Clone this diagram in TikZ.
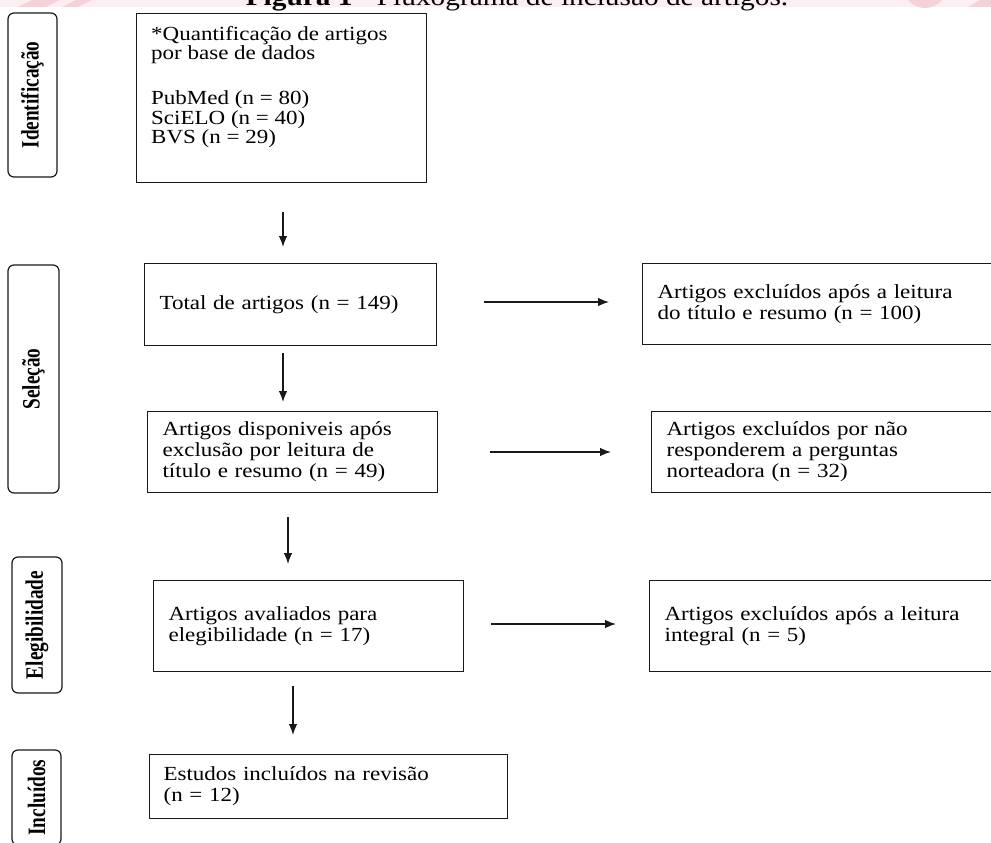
\documentclass[tikz,border=0pt]{standalone}
\usepackage{fontspec}
\setmainfont{Liberation Serif}[FakeStretch=1.15]
\newfontfamily\tagfont{Liberation Serif}[FakeStretch=0.77]
\usetikzlibrary{arrows.meta}
\definecolor{pinkA}{HTML}{FCEEF1}
\definecolor{pinkB}{HTML}{F4D2D9}
\begin{document}
\begin{tikzpicture}[x=1pt,y=-1pt,
  box/.style={draw=black!90, line width=1.2pt, anchor=north west, align=left,
    inner ysep=0pt, inner xsep=15pt, font=\fontsize{20}{21}\selectfont},
  txt/.style={align=left, inner sep=0pt, font=\fontsize{20}{18}\selectfont},
  tagbox/.style={draw=black!90, line width=1.2pt, rounded corners=6pt, rotate=90,
    inner sep=0pt, font=\tagfont\bfseries\fontsize{25}{25}\selectfont},
  arr/.style={-{Latex[length=11pt,width=8.5pt]}, line width=1.3pt, draw=black!90}]
\useasboundingbox (0,0) rectangle (991,843);
\clip (0,0) rectangle (991,843);
\fill[white] (0,0) rectangle (991,843);
% pink watermark band
\fill[pinkA] (0,0) rectangle (991,7);
\fill[pinkB] (18,7) -- (32,0) -- (60,0) -- (46,7) -- cycle;
\fill[pinkB] (62,7) -- (76,0) -- (92,0) -- (78,7) -- cycle;
\fill[pinkB] (925,-14) circle[radius=22];
\fill[pinkB] (968,7) -- (980,0) -- (991,0) -- (991,7) -- cycle;
% title (cut off at the top, as in the reference)
\node[anchor=base, inner sep=0pt, font=\fontsize{25.5}{26}\selectfont] (title) at (517,5.5)
  {\textbf{Figura 1} - Fluxograma de inclusão de artigos.};
% stage tags
\node[tagbox, minimum width=164, minimum height=49] (t1) at (32.5,95) {Identificação};
\node[tagbox, minimum width=228, minimum height=51] (t2) at (33.5,379) {Seleção};
\node[tagbox, minimum width=136, minimum height=50] (t3) at (37,625) {Elegibilidade};
\node[tagbox, minimum width=95, minimum height=49] (t4) at (36.5,797.5) {Incluídos};
% boxes
\node[box, minimum width=290, minimum height=169] (b1) at (136,13) {};
\node[txt, anchor=west] (b1t) at (151,87)
  {*Quantificação de artigos\\por base de dados\\[26pt]PubMed (n = 80)\\SciELO (n = 40)\\BVS (n = 29)};
\node[box, minimum width=292, minimum height=82, text width=262] (b2) at (144,263)
  {Total de artigos (n = 149)};
\node[box, minimum width=360, minimum height=81, text width=330] (b3) at (642,263)
  {Artigos excluídos após a leitura\\do título e resumo (n = 100)};
\node[box, minimum width=290, minimum height=81, text width=260] (b4) at (147,411)
  {Artigos disponiveis após\\exclusão por leitura de\\título e resumo (n = 49)};
\node[box, minimum width=350, minimum height=81, text width=320] (b5) at (651,411)
  {Artigos excluídos por não\\responderem a perguntas\\norteadora (n = 32)};
\node[box, minimum width=310, minimum height=91, text width=280] (b6) at (153,580)
  {Artigos avaliados para\\elegibilidade (n = 17)};
\node[box, minimum width=355, minimum height=91, text width=325, inner xsep=13pt] (b7) at (649,580)
  {Artigos excluídos após a leitura\\integral (n = 5)};
\node[box, minimum width=358, minimum height=64, text width=330, inner xsep=14pt] (b8) at (149,754)
  {Estudos incluídos na revisão\\(n = 12)};
% arrow end points
\coordinate (a1s) at (283,212); \coordinate (a1e) at (283,247);
\coordinate (a2s) at (283,353); \coordinate (a2e) at (283,402);
\coordinate (a3s) at (288,517); \coordinate (a3e) at (288,564);
\coordinate (a4s) at (293,686); \coordinate (a4e) at (293,735);
\coordinate (h1s) at (484,302); \coordinate (h1e) at (609,302);
\coordinate (h2s) at (490,452); \coordinate (h2e) at (611,452);
\coordinate (h3s) at (491,624); \coordinate (h3e) at (616,624);
\draw[arr] (a1s) -- (a1e);
\draw[arr] (a2s) -- (a2e);
\draw[arr] (a3s) -- (a3e);
\draw[arr] (a4s) -- (a4e);
\draw[arr] (h1s) -- (h1e);
\draw[arr] (h2s) -- (h2e);
\draw[arr] (h3s) -- (h3e);
\end{tikzpicture}
\end{document}
